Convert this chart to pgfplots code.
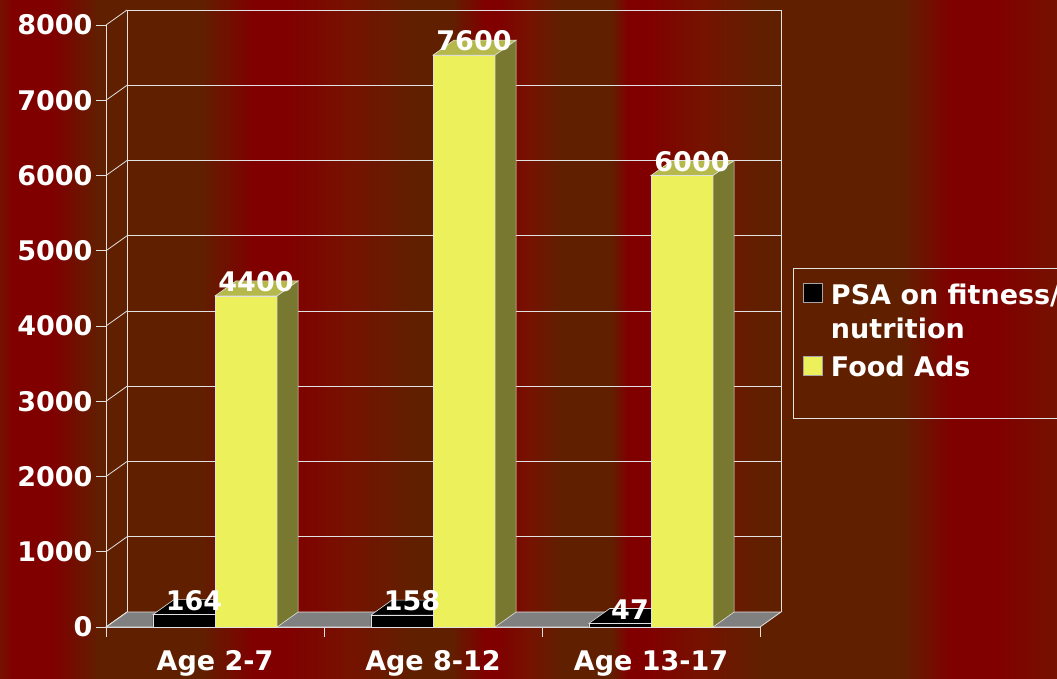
\documentclass[border=0pt]{standalone}
\usepackage{fontspec}
\setmainfont{DejaVu Sans}
\usepackage{pgfplots}
\pgfplotsset{compat=1.18}

\definecolor{bgdr}{RGB}{128,0,0}
\definecolor{bgbr}{RGB}{96,32,0}
\definecolor{bgrd}{RGB}{118,18,0}
\definecolor{gridc}{RGB}{225,225,225}
\definecolor{floorc}{RGB}{128,128,128}
\definecolor{yfront}{RGB}{236,240,90}
\definecolor{ytop}{RGB}{181,184,74}
\definecolor{yside}{RGB}{120,120,48}

\newcommand{\bigfont}{\fontsize{27bp}{34bp}\selectfont\bfseries}

\begin{document}
\begin{tikzpicture}
  \path[use as bounding box] (0bp,0bp) rectangle (1057bp,679bp);
  \clip (0bp,0bp) rectangle (1057bp,679bp);

  % striped background
  \foreach \xa/\ca/\xb/\cb in {
      0/bgrd/13/bgdr, 13/bgdr/53/bgdr, 53/bgdr/100/bgbr, 100/bgbr/200/bgbr,
      200/bgbr/253/bgdr, 253/bgdr/287/bgdr, 287/bgdr/347/bgrd, 347/bgrd/414/bgbr,
      414/bgbr/451/bgbr, 451/bgbr/484/bgdr, 484/bgdr/497/bgdr, 497/bgdr/529/bgrd,
      529/bgrd/561/bgbr, 561/bgbr/611/bgbr, 611/bgbr/628/bgdr, 628/bgdr/648/bgdr,
      648/bgdr/700/bgrd, 700/bgrd/761/bgbr, 761/bgbr/902/bgbr, 902/bgbr/952/bgdr,
      952/bgdr/999/bgdr, 999/bgdr/1057/bgrd}
    \shade[left color=\ca, right color=\cb, shading angle=90]
      (\xa bp-0.5bp,0bp) rectangle (\xb bp+0.5bp,679bp);

  \begin{axis}[
      at={(106bp,52bp)}, anchor=south west,
      scale only axis,
      width=654bp, height=602bp,
      xmin=-0.5, xmax=2.5,
      ymin=0, ymax=8000,
      clip=false,
      axis x line*=bottom,
      axis y line*=left,
      axis line style={draw=gridc, line width=0.8bp},
      tick align=outside,
      ytick={0,1000,...,8000},
      major tick length=10bp,
      minor tick length=10bp,
      ytick style={draw=gridc, line width=0.8bp},
      xtick={0,1,2},
      xticklabels={Age 2-7, Age 8-12, Age 13-17},
      major x tick style={draw=none},
      minor xtick={-0.5,0.5,1.5,2.5},
      minor x tick style={draw=gridc, line width=0.8bp},
      scaled y ticks=false,
      /pgf/number format/1000 sep={},
      /pgf/number format/assume math mode=true,
      tick label style={font=\bigfont, text=white},
      xticklabel style={yshift=-10bp},
      legend style={
        at={(axis description cs:1.0657,0.5714)}, anchor=north west,
        draw=none, fill=none, text=white, font=\bigfont,
        inner sep=0pt, row sep=50bp, column sep=8bp,
        cells={anchor=north west},
        nodes={inner sep=0pt},
      },
      legend image code/.code={
        \draw[#1, draw=gray!70, line width=0.8bp] (0bp,-19bp) rectangle (19bp,0bp);
      },
      nodes near coords,
      every node near coord/.append style={
        font=\bigfont, text=white, anchor=center, yshift=14bp},
    ]

    % floor
    \addplot[forget plot, fill=floorc, draw=gridc, line width=0.8bp,
      nodes near coords=\empty]
      coordinates {(-0.5,0) (2.5,0) (2.5963,199) (-0.4037,199)} -- cycle;

    % walls and grid
    \pgfplotsinvokeforeach{1000,2000,...,8000}{
      \draw[gridc, line width=0.8bp] (-0.4037,#1+199) -- (2.5963,#1+199);
    }
    \pgfplotsinvokeforeach{0,1000,...,8000}{
      \draw[gridc, line width=0.8bp] (-0.5,#1) -- (-0.4037,#1+199);
    }
    \draw[gridc, line width=0.8bp] (-0.4037,199) -- (-0.4037,8199);
    \draw[gridc, line width=0.8bp] (2.5963,199) -- (2.5963,8199);

    % PSA bars: top faces first
    \addplot[forget plot, fill=black, draw=gridc, line width=0.6bp, nodes near coords=\empty]
      coordinates {(-0.285,164) (0,164) (0.0963,363) (-0.1887,363)} -- cycle;
    \addplot[forget plot, fill=black, draw=gridc, line width=0.6bp, nodes near coords=\empty]
      coordinates {(0.715,158) (1,158) (1.0963,357) (0.8113,357)} -- cycle;
    \addplot[forget plot, fill=black, draw=gridc, line width=0.6bp, nodes near coords=\empty]
      coordinates {(1.715,47) (2,47) (2.0963,246) (1.8113,246)} -- cycle;

    % PSA bars: front faces
    \addplot[ybar, bar width=0.285, bar shift=-0.1425,
      fill=black, draw=gridc, line width=0.6bp,
      every node near coord/.append style={xshift=-21bp}]
      coordinates {(0,164) (1,158) (2,47)};
    \addlegendentry{\parbox[t]{260bp}{PSA on fitness/\\nutrition}}

    % Food Ads bars: front faces
    \addplot[ybar, bar width=0.285, bar shift=0.1425,
      fill=yfront, draw=gridc, line width=0.6bp,
      every node near coord/.append style={xshift=41bp}]
      coordinates {(0,4400) (1,7600) (2,6000)};
    \addlegendentry{Food Ads}

    % Food Ads bars: top and side faces
    \addplot[forget plot, fill=ytop, draw=gridc, line width=0.6bp, nodes near coords=\empty]
      coordinates {(0,4400) (0.285,4400) (0.3813,4599) (0.0963,4599)} -- cycle;
    \addplot[forget plot, fill=yside, draw=gridc, line width=0.6bp, nodes near coords=\empty]
      coordinates {(0.285,0) (0.3813,199) (0.3813,4599) (0.285,4400)} -- cycle;
    \addplot[forget plot, fill=ytop, draw=gridc, line width=0.6bp, nodes near coords=\empty]
      coordinates {(1,7600) (1.285,7600) (1.3813,7799) (1.0963,7799)} -- cycle;
    \addplot[forget plot, fill=yside, draw=gridc, line width=0.6bp, nodes near coords=\empty]
      coordinates {(1.285,0) (1.3813,199) (1.3813,7799) (1.285,7600)} -- cycle;
    \addplot[forget plot, fill=ytop, draw=gridc, line width=0.6bp, nodes near coords=\empty]
      coordinates {(2,6000) (2.285,6000) (2.3813,6199) (2.0963,6199)} -- cycle;
    \addplot[forget plot, fill=yside, draw=gridc, line width=0.6bp, nodes near coords=\empty]
      coordinates {(2.285,0) (2.3813,199) (2.3813,6199) (2.285,6000)} -- cycle;
  \end{axis}

  % legend frame
  \draw[gridc, line width=0.8bp] (793bp,261bp) rectangle (1090bp,411bp);
\end{tikzpicture}
\end{document}
